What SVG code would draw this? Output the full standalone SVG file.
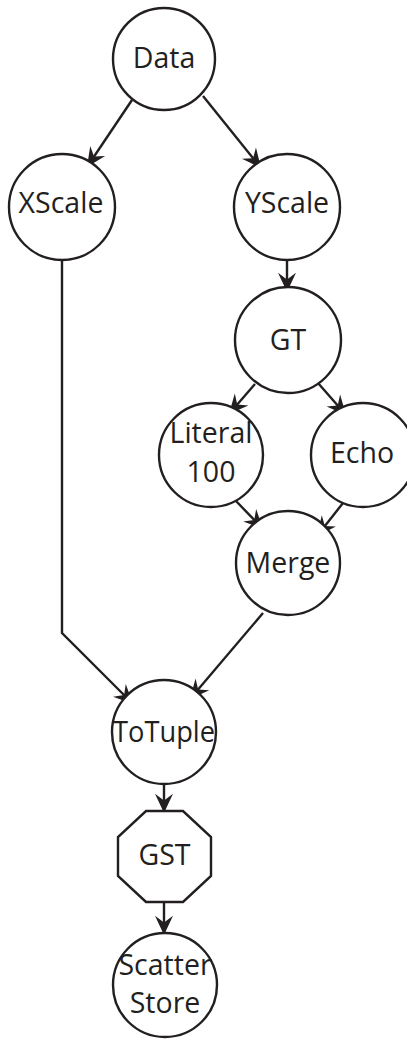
<svg xmlns="http://www.w3.org/2000/svg" width="407" height="1040" viewBox="0 0 407 1040">
  <style>
    .node { fill: #ffffff; stroke: #231f20; stroke-width: 2.4; }
    .edge { fill: none; stroke: #231f20; stroke-width: 2.4; }
    .label { font-family: "Open Sans", "Liberation Sans", sans-serif; font-size: 28.5px; fill: #231f20; text-anchor: middle; }
  </style>
  <defs>
    <marker id="arrow" markerUnits="userSpaceOnUse" markerWidth="24" markerHeight="24" viewBox="-18 -9 20 18" refX="0" refY="0" orient="auto">
      <path d="M0,0 L-16,-7.5 L-10.5,0 L-16,7.5 Z" fill="#231f20"/>
    </marker>
  </defs>

  <rect width="407" height="1040" fill="#ffffff"/>

  <!-- connectors -->
  <g id="edges">
    <path class="edge" d="M132,100 L87,167" marker-end="url(#arrow)"/>
    <path class="edge" d="M203,96 L261,168" marker-end="url(#arrow)"/>
    <path class="edge" d="M287,260 L287,292" marker-end="url(#arrow)"/>
    <path class="edge" d="M255,384 L229,414" marker-end="url(#arrow)"/>
    <path class="edge" d="M318,383 L346,415" marker-end="url(#arrow)"/>
    <path class="edge" d="M236,501 L263,529" marker-end="url(#arrow)"/>
    <path class="edge" d="M343,503 L317,536" marker-end="url(#arrow)"/>
    <path class="edge" d="M62,260 L62,633 L133,704" marker-end="url(#arrow)"/>
    <path class="edge" d="M263,613 L190,699" marker-end="url(#arrow)"/>
    <path class="edge" d="M164,785 L164,813" marker-end="url(#arrow)"/>
    <path class="edge" d="M164,902 L164,935" marker-end="url(#arrow)"/>
  </g>

  <!-- nodes -->
  <g id="data">
    <circle class="node" cx="164" cy="59" r="51"/>
    <text class="label" x="164" y="68">Data</text>
  </g>
  <g id="xscale">
    <circle class="node" cx="62" cy="207" r="53"/>
    <text class="label" x="61" y="213">XScale</text>
  </g>
  <g id="yscale">
    <circle class="node" cx="287" cy="207" r="53"/>
    <text class="label" x="287" y="213">YScale</text>
  </g>
  <g id="gt">
    <circle class="node" cx="288" cy="340" r="53"/>
    <text class="label" x="288" y="350">GT</text>
  </g>
  <g id="literal">
    <circle class="node" cx="211" cy="455" r="52"/>
    <text class="label" x="211" y="443">Literal</text>
    <text class="label" x="211" y="482">100</text>
  </g>
  <g id="echo">
    <circle class="node" cx="363" cy="455" r="52"/>
    <text class="label" x="362" y="463">Echo</text>
  </g>
  <g id="merge">
    <circle class="node" cx="288" cy="563" r="52"/>
    <text class="label" x="288" y="573">Merge</text>
  </g>
  <g id="totuple">
    <circle class="node" cx="164" cy="732" r="52"/>
    <text class="label" x="164" y="742" textLength="102" lengthAdjust="spacingAndGlyphs">ToTuple</text>
  </g>
  <g id="gst">
    <polygon class="node" points="146,811 183,811 211,837 211,876 183,902 146,902 118,876 118,837"/>
    <text class="label" x="164.5" y="865">GST</text>
  </g>
  <g id="scatterstore">
    <circle class="node" cx="165" cy="985" r="52"/>
    <text class="label" x="165" y="975">Scatter</text>
    <text class="label" x="165" y="1013">Store</text>
  </g>
</svg>
